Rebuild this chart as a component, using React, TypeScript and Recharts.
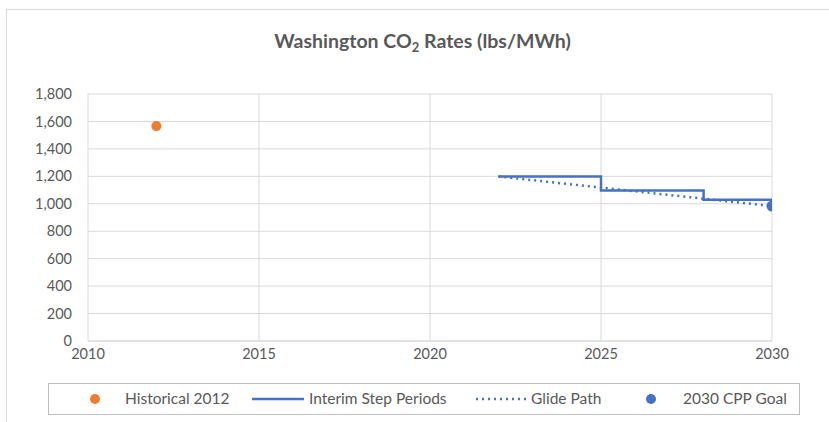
import React from 'react';
import { ComposedChart, Line, Scatter, XAxis, YAxis, CartesianGrid } from 'recharts';

const historical = [{ x: 2012, y: 1566 }];
const interimSteps = [
  { x: 2022, y: 1199 },
  { x: 2025, y: 1199 },
  { x: 2025, y: 1096 },
  { x: 2028, y: 1096 },
  { x: 2028, y: 1030 },
  { x: 2030, y: 1030 },
];
const glidePath = [
  { x: 2022, y: 1199 },
  { x: 2030, y: 983 },
];
const goal2030 = [{ x: 2030, y: 983 }];
const xTicks = [2010, 2015, 2020, 2025, 2030];
const yTicks = [0, 200, 400, 600, 800, 1000, 1200, 1400, 1600, 1800];

const FONT = 'Lato, "Open Sans", sans-serif';
const BLUE = '#4472C4';
const ORANGE = '#ED7D31';
const TXT = '#595959';

const LegendBox = () => (
  <div
    style={{
      position: 'absolute',
      left: 48,
      top: 383,
      width: 752,
      height: 32,
      border: '1px solid #bfbfbf',
      boxSizing: 'border-box',
      fontFamily: FONT,
      fontSize: 15.5,
      color: TXT,
      background: '#fff',
    }}
  >
    <svg width={752} height={32} style={{ position: 'absolute', left: -1, top: -1 }}>
      <circle cx={47} cy={16} r={5} fill={ORANGE} />
      <line x1={204} x2={256} y1={16} y2={16} stroke={BLUE} strokeWidth={2.5} />
      <line x1={428} x2={481} y1={16} y2={16} stroke={BLUE} strokeWidth={2.5} strokeDasharray="2 4" />
      <circle cx={603} cy={16} r={5} fill={BLUE} />
    </svg>
    <span style={{ position: 'absolute', left: 76, top: 5, whiteSpace: 'nowrap' }}>Historical 2012</span>
    <span style={{ position: 'absolute', left: 260, top: 5, whiteSpace: 'nowrap' }}>Interim Step Periods</span>
    <span style={{ position: 'absolute', left: 482, top: 5, whiteSpace: 'nowrap' }}>Glide Path</span>
    <span style={{ position: 'absolute', left: 634, top: 5, whiteSpace: 'nowrap' }}>2030 CPP Goal</span>
  </div>
);

export default function App() {
  return (
    <div style={{ position: 'absolute', left: 0, top: 0, width: 829, height: 422, background: '#fff', overflow: 'hidden' }}>
      <div
        style={{
          position: 'absolute',
          left: 6,
          top: 9,
          width: 840,
          height: 430,
          borderLeft: '1px solid #d9d9d9',
          borderTop: '1px solid #d9d9d9',
        }}
      />
      <div
        style={{
          position: 'absolute',
          left: 0,
          width: 845,
          top: 29,
          textAlign: 'center',
          fontFamily: FONT,
          fontWeight: 700,
          fontSize: 19.5,
          color: TXT,
        }}
      >
        Washington CO<sub style={{ fontSize: 13, verticalAlign: -4 }}>2</sub> Rates (lbs/MWh)
      </div>
      <div style={{ position: 'absolute', left: 0, top: 0 }}>
        <ComposedChart width={829} height={422} margin={{ top: 94, right: 57, left: 28, bottom: 56 }}>
          <CartesianGrid stroke="#d9d9d9" />
          <XAxis
            dataKey="x"
            type="number"
            domain={[2010, 2030]}
            ticks={xTicks}
            allowDataOverflow
            axisLine={{ stroke: '#d9d9d9' }}
            tickLine={false}
            height={25}
            tick={{ fill: TXT, fontSize: 14.5, fontFamily: FONT }}
            tickMargin={2}
          />
          <YAxis
            type="number"
            domain={[0, 1800]}
            ticks={yTicks}
            width={60}
            axisLine={false}
            tickLine={false}
            tick={{ fill: TXT, fontSize: 14.5, fontFamily: FONT }}
            tickFormatter={(v: number) => v.toLocaleString('en-US')}
            tickMargin={10}
          />
          <Line
            data={glidePath}
            dataKey="y"
            type="linear"
            stroke={BLUE}
            strokeWidth={2.5}
            strokeDasharray="2 4"
            dot={false}
            activeDot={false}
            isAnimationActive={false}
            name="Glide Path"
          />
          <Line
            data={interimSteps}
            dataKey="y"
            type="linear"
            stroke={BLUE}
            strokeWidth={2.5}
            dot={false}
            activeDot={false}
            isAnimationActive={false}
            name="Interim Step Periods"
          />
          <Scatter data={historical} dataKey="y" fill={ORANGE} isAnimationActive={false} name="Historical 2012"
            shape={(p: any) => <circle cx={p.cx} cy={p.cy} r={5} fill={ORANGE} />} />
          <Scatter data={goal2030} dataKey="y" fill={BLUE} isAnimationActive={false} name="2030 CPP Goal"
            shape={(p: any) => <circle cx={p.cx} cy={p.cy} r={5.5} fill={BLUE} />} />
        </ComposedChart>
      </div>
      <LegendBox />
    </div>
  );
}
